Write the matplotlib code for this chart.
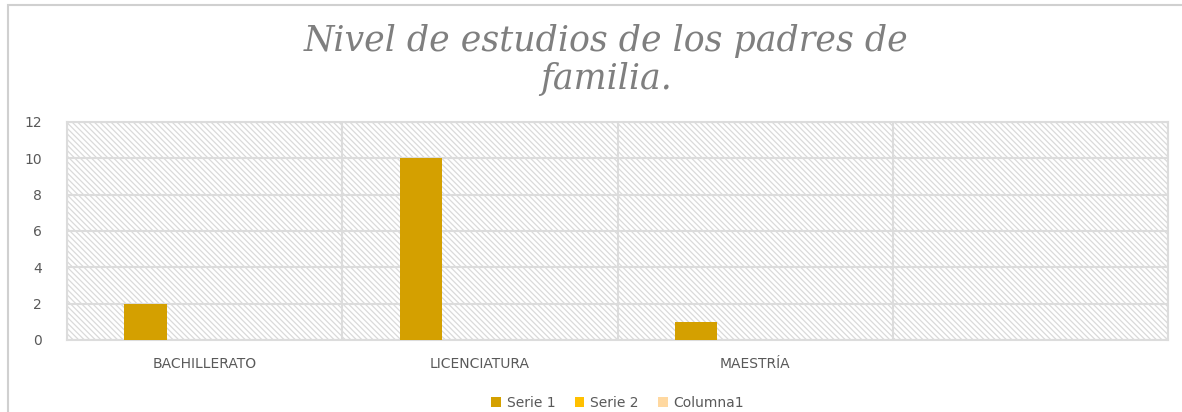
import numpy as np
import matplotlib.pyplot as plt
from matplotlib.patches import Rectangle

categories = ["BACHILLERATO", "LICENCIATURA", "MAESTRÍA", ""]
serie1 = [2, 10, 1, 0]
serie2 = [0, 0, 0, 0]
columna1 = [0, 0, 0, 0]
series_names = ["Serie 1", "Serie 2", "Columna1"]
colors = ["#d4a000", "#ffc000", "#ffd8a0"]

plt.rcParams['hatch.color'] = '#dadada'
plt.rcParams['hatch.linewidth'] = 0.9

fig = plt.figure(figsize=(11.82, 4.12), dpi=100)
# chart area border
fig.patches.append(Rectangle((0.007, -0.01), 1.0, 0.998, transform=fig.transFigure,
                             fill=False, edgecolor='#d0d0d0', linewidth=1.5))

ax = fig.add_axes([0.0567, 0.1748, 0.9315, 0.5292])
ax.set_facecolor('white')
ax.add_patch(Rectangle((0, 0), 1, 1, transform=ax.transAxes, facecolor='white',
                       edgecolor='#dadada', hatch='\\\\\\\\\\\\', linewidth=0, zorder=0))

x = np.arange(len(categories))
width = 0.153
offsets = [-0.215, -0.062, 0.091]
for vals, off, c, name in zip([serie1, serie2, columna1], offsets, colors, series_names):
    ax.bar(x + off, vals, width, color=c, label=name, zorder=3)

ax.set_xlim(-0.5, 3.5)
ax.set_ylim(0, 12)
ax.set_yticks(np.arange(0, 13, 2))
ax.set_xticks(x)
ax.set_xticklabels(categories)
ax.set_xticks(np.arange(-0.5, 4.0, 1), minor=True)
ax.grid(axis='y', color='#dcdcdc', linewidth=1.5, zorder=1)
ax.grid(axis='x', which='minor', color='#dcdcdc', linewidth=1.5, zorder=1)
ax.tick_params(axis='both', which='both', length=0, colors='#595959', labelsize=10)
ax.tick_params(axis='x', pad=12)
ax.tick_params(axis='y', pad=18)
for s in ax.spines.values():
    s.set_color('#dcdcdc')
    s.set_linewidth(1.5)

fig.text(0.513, 0.855, "Nivel de estudios de los padres de\nfamilia.", ha='center', va='center',
         fontsize=25, color='#7f7f7f', family='DejaVu Serif', style='italic', linespacing=1.15)

ax.legend(loc='center', bbox_to_anchor=(0.5, -0.29), ncol=3, frameon=False,
          fontsize=10, labelcolor='#595959', handlelength=0.7, handleheight=0.7,
          handletextpad=0.4, columnspacing=1.4)

fig.savefig("out.png", dpi=100)
